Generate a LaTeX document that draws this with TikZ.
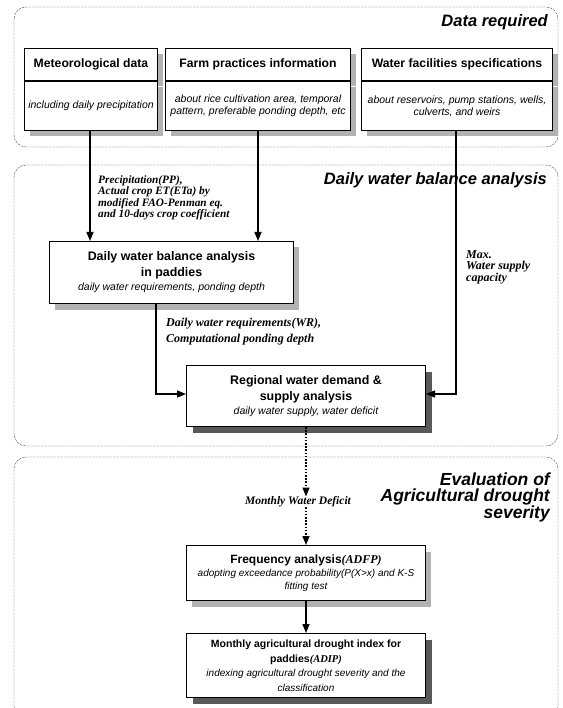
\documentclass[tikz,border=0pt]{standalone}
\usepackage{fontspec}
\setmainfont{Liberation Sans}
\newfontfamily\lblfont{Liberation Serif}
\usetikzlibrary{positioning}
\usetikzlibrary{shadows}
\usetikzlibrary{arrows.meta}

\tikzset{
  panel/.style={draw=black!70, thin, dash pattern=on 2.5pt off 1pt, rounded corners=12pt},
  paneltitle/.style={anchor=east, align=right, inner sep=0pt, font=\fontsize{16.5}{16}\selectfont\bfseries\itshape},
  lightshadow/.style={general shadow={fill=black!30, shadow xshift=5pt, shadow yshift=-6pt}},
  darkshadow/.style={general shadow={fill=black!65, shadow xshift=6pt, shadow yshift=-6pt}},
  headbox/.style={draw, line width=1pt, fill=white, lightshadow, minimum height=32pt, inner sep=0pt, font=\fontsize{12.2}{14}\selectfont\bfseries},
  descbox/.style={draw, line width=1pt, fill=white, lightshadow, inner sep=0pt, align=center, font=\fontsize{10.5}{12}\selectfont\itshape},
  procbox/.style={draw, line width=1pt, fill=white, align=center, inner sep=0pt, minimum width=239pt, font=\fontsize{10.5}{15}\selectfont},
  flowlabel/.style 2 args={anchor=west, align=left, inner sep=0pt, font=\lblfont\fontsize{#1}{#2}\selectfont\bfseries\itshape},
  flow/.style={line width=1.4pt, -{Triangle[length=9pt,width=7pt]}},
  deficitflow/.style={flow, dash pattern=on 1.6pt off 1.6pt},
}
\newcommand{\boxhead}[1]{{\fontsize{12.4}{15}\selectfont\bfseries #1}}
\newcommand{\boxnote}[1]{{\fontsize{10.5}{14}\selectfont\itshape #1}}
\newcommand{\smallhead}[1]{{\fontsize{10.5}{13}\selectfont\bfseries #1}}
\newcommand{\smallnote}[1]{{\fontsize{10}{13}\selectfont\itshape #1}}
\newcommand{\abbr}[1]{{\lblfont\bfseries\itshape #1}}

\begin{document}
\begin{tikzpicture}[x=1pt, y=-1pt]
\useasboundingbox (0,0) rectangle (562,708);

%panels
\draw[panel] (14,7) rectangle (558,147);
\draw[panel] (14,165) rectangle (558,446);
\draw[panel] (14,457) rectangle (558,718);

%panel titles
\node[paneltitle] (datatitle) at (548,22) {Data required};
\node[paneltitle] (balancetitle) at (547,180) {Daily water balance analysis};
\node[paneltitle, font=\fontsize{17.5}{16.5}\selectfont\bfseries\itshape] (droughttitle) at (550,497) {Evaluation of\\Agricultural drought\\severity};

%data boxes
\node[headbox, minimum width=133pt, anchor=north west] (methead) at (24,48) {Meteorological data};
\node[descbox, minimum width=133pt, minimum height=49pt, anchor=north] (metdesc) at (methead.south) {including daily precipitation};
\node[headbox, minimum width=185pt, anchor=north west] (farmhead) at (165,48) {Farm practices information};
\node[descbox, minimum width=185pt, minimum height=49pt, anchor=north] (farmdesc) at (farmhead.south) {about rice cultivation area, temporal\\pattern, preferable ponding depth, etc};
\node[headbox, minimum width=191pt, anchor=north west] (fachead) at (361,48) {Water facilities specifications};
\node[descbox, minimum width=191pt, minimum height=49pt, anchor=north] (facdesc) at (fachead.south) {about reservoirs, pump stations, wells,\\culverts, and weirs};

%process boxes
\node[procbox, lightshadow, minimum width=244pt, minimum height=62pt, anchor=north west] (paddies) at (49,241)
  {\boxhead{Daily water balance analysis}\\[1pt]
   \boxhead{in paddies}\\[-1pt]
   \boxnote{daily water requirements, ponding depth}};
\node[procbox, darkshadow, minimum height=61pt, anchor=north west] (regional) at (186,365)
  {\boxhead{Regional water demand \&}\\[1pt]
   \boxhead{supply analysis}\\[-1pt]
   \boxnote{daily water supply, water deficit}};
\node[procbox, lightshadow, minimum height=55pt, anchor=north west, font=\fontsize{10}{12}\selectfont] (freq) at (186,545)
  {{\fontsize{12}{14}\selectfont\bfseries Frequency analysis\abbr{(ADFP)}}\\[1pt]
   \smallnote{adopting exceedance probability(P(X>x) and K-S}\\[0.5pt]
   \smallnote{fitting test}};
\node[procbox, darkshadow, minimum height=64pt, anchor=north west, font=\fontsize{10}{13.5}\selectfont] (monthly) at (186,633)
  {\smallhead{Monthly agricultural drought index for}\\[1pt]
   \smallhead{paddies\abbr{(ADIP)}}\\[1pt]
   \smallnote{indexing agricultural drought severity and the}\\[1pt]
   \smallnote{classification}};

%flow labels
\node[flowlabel={11.3}{8.9}] (climlabel) at (98,198) {Precipitation(PP),\\Actual crop ET(ETa) by\\modified FAO-Penman eq.\\and 10-days crop coefficient};
\node[flowlabel={12}{11.5}] (caplabel) at (466,267) {Max.\\Water supply\\capacity};
\node[flowlabel={12}{16}] (wrlabel) at (166,332) {Daily water requirements(WR),\\Computational ponding depth};
\node[flowlabel={11.5}{13}, anchor=center] (deficit) at (298,502) {Monthly Water Deficit};

%columns and rows of connectors
\coordinate (metcol) at (90,0);
\coordinate (farmcol) at (258,0);
\coordinate (faccol) at (456,0);
\coordinate (paddycol) at (156,0);
\coordinate (regionrow) at (0,394);

%connectors
\draw[flow] (metdesc.south -| metcol) -- (paddies.north -| metcol);
\draw[flow] (farmdesc.south -| farmcol) -- (paddies.north -| farmcol);
\draw[flow] (facdesc.south -| faccol) |- (regional.east |- regionrow);
\draw[flow] (paddies.south -| paddycol) |- (regional.west |- regionrow);
\draw[deficitflow] (regional.south) -- (deficit.north -| regional.south);
\draw[deficitflow] (deficit.south -| regional.south) -- (freq.north);
\draw[flow] (freq.south) -- (monthly.north);

\end{tikzpicture}
\end{document}
